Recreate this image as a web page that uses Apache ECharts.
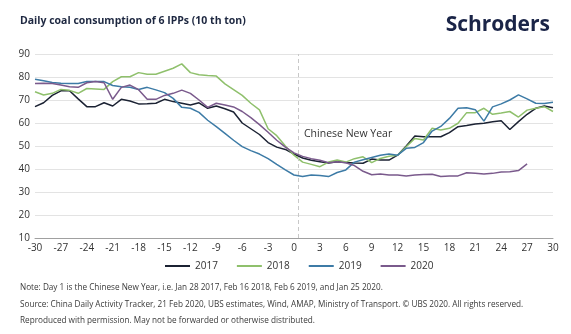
<!DOCTYPE html>
<html>
<head>
<meta charset="utf-8">
<script src="https://cdn.jsdelivr.net/npm/echarts@6/dist/echarts.min.js"></script>
<style>
  html, body { margin: 0; padding: 0; background: #ffffff; }
  #chart { width: 571px; height: 334px; }
</style>
</head>
<body>
<div id="chart"></div>
<script>
// Days relative to the Chinese New Year
const days = [-30,-29,-28,-27,-26,-25,-24,-23,-22,-21,-20,-19,-18,-17,-16,-15,-14,-13,-12,-11,
  -10,-9,-8,-7,-6,-5,-4,-3,-2,-1,0,1,2,3,4,5,6,7,8,9,10,11,12,13,14,15,16,17,18,19,20,
  21,22,23,24,25,26,27,28,29,30];

// Daily coal consumption of 6 IPPs (10 th ton)
const y2017 = [67.1,68.8,72.0,74.0,74.0,70.5,67.1,67.1,68.8,67.4,70.3,69.6,68.3,68.4,68.6,70.3,69.3,68.6,67.8,68.8,
  66.4,67.4,66.2,64.8,60.0,57.5,55.0,51.5,49.5,48.5,46.5,44.8,43.8,43.2,42.6,43.2,42.8,42.6,42.5,44.3,43.9,
  43.9,46.0,50.0,54.3,54.0,54.0,54.0,55.8,58.4,58.9,59.6,59.9,60.5,61.0,57.2,60.6,63.8,66.4,67.4,66.6];
const y2018 = [73.6,72.2,72.9,74.6,74.2,72.9,75.0,74.8,74.6,78.0,80.1,80.1,81.9,81.2,81.2,82.5,83.8,85.7,81.9,81.0,
  80.6,80.4,77.0,74.5,72.0,68.6,65.7,57.5,54.5,50.0,46.0,43.0,42.0,41.0,43.0,43.9,43.0,44.5,45.3,42.8,44.6,
  45.5,46.0,49.7,53.3,52.6,57.7,57.0,57.7,59.9,64.5,64.5,66.4,63.8,64.3,65.0,62.6,65.6,66.4,67.1,65.0];
const y2019 = [79.0,78.4,77.6,77.3,77.2,77.2,78.0,78.0,78.0,76.3,75.8,75.5,74.6,75.5,74.4,73.2,70.7,66.8,66.4,64.6,
  61.2,58.4,55.5,52.5,49.7,48.0,46.5,44.5,42.0,39.6,37.4,36.7,37.4,37.2,36.7,38.5,39.6,43.0,44.0,45.0,46.0,
  46.5,46.0,49.0,49.4,51.5,56.5,58.5,62.0,66.4,66.6,65.8,60.8,67.0,68.3,70.0,72.2,70.5,68.6,68.5,69.0];
const y2020 = [77.2,77.3,77.2,76.5,75.8,75.5,77.5,78.0,77.5,70.3,75.5,76.5,74.5,70.3,70.3,72.0,72.9,74.3,72.9,70.0,
  66.8,68.6,67.8,67.0,65.0,62.3,59.3,56.0,52.5,49.5,47.0,45.5,44.5,43.8,42.7,43.2,42.7,41.5,39.0,37.5,37.8,
  37.4,37.4,37.0,37.4,37.6,37.7,36.7,37.0,37.0,38.4,38.1,37.8,38.1,38.7,38.8,39.3,42.2,null,null,null];

const seriesNames = ['2017', '2018', '2019', '2020'];
const seriesValues = [y2017, y2018, y2019, y2020];
const seriesColors = ['#1b2233', '#8fc06c', '#3d7ba6', '#7a5a8c'];

// Axis settings
const yMin = 10, yMax = 90, yStep = 10;
const xMin = -30, xMax = 30, xStep = 3;
const newYearDay = 0.5;

const textFont = '"Open Sans", "Noto Sans", sans-serif';

const chart = echarts.init(document.getElementById('chart'), null, { renderer: 'canvas' });

const series = seriesNames.map((name, i) => ({
  name: name,
  type: 'line',
  data: days.map((d, k) => [d, seriesValues[i][k]]),
  showSymbol: false,
  symbol: 'none',
  lineStyle: { width: 1.5, color: seriesColors[i] },
  itemStyle: { color: seriesColors[i] },
  connectNulls: false,
  animation: false,
  z: 3 + i
}));

// Dashed marker for the New Year
series[0].markLine = {
  silent: true,
  symbol: 'none',
  animation: false,
  label: { show: false },
  lineStyle: { type: [4, 3], color: '#c8c8c8', width: 1 },
  data: [{ xAxis: newYearDay }]
};

chart.setOption({
  backgroundColor: '#ffffff',
  textStyle: { fontFamily: textFont },
  animation: false,
  grid: { left: 35, right: 18, top: 54, bottom: 96, containLabel: false },
  xAxis: {
    type: 'value',
    min: xMin, max: xMax, interval: xStep,
    axisLine: { show: true, lineStyle: { color: '#a0a0a0', width: 1 } },
    axisTick: { show: false },
    splitLine: { show: false },
    axisLabel: { color: '#333333', fontSize: 10, margin: 5, fontFamily: textFont }
  },
  yAxis: {
    type: 'value',
    min: yMin, max: yMax, interval: yStep,
    axisLine: { show: false },
    axisTick: { show: false },
    splitLine: { show: true, lineStyle: { color: '#e3e3e3', width: 1 } },
    axisLabel: { color: '#333333', fontSize: 10, margin: 5, fontFamily: textFont }
  },
  legend: {
    data: seriesNames,
    left: 160, top: 256,
    itemWidth: 25, itemHeight: 2, itemGap: 19,
    icon: 'rect',
    textStyle: { color: '#333333', fontSize: 10, fontFamily: textFont }
  },
  graphic: [
    {
      type: 'text', left: 20, top: 16,
      style: { text: 'Daily coal consumption of 6 IPPs (10 th ton)', fill: '#1d2740',
        font: 'bold 10.5px ' + textFont }
    },
    {
      type: 'text', right: 21, top: 15,
      style: { text: 'Schroders', fill: '#1a2447', font: 'bold 21px ' + textFont }
    },
    {
      type: 'text', left: 304, top: 129,
      style: { text: 'Chinese New Year', fill: '#333333', font: '10.5px ' + textFont }
    },
    {
      type: 'text', left: 20, top: 284,
      style: { text: 'Note: Day 1 is the Chinese New Year, i.e. Jan 28 2017, Feb 16 2018, Feb 6 2019, and Jan 25 2020.',
        fill: '#3a3a3a', font: '8.2px ' + textFont }
    },
    {
      type: 'text', left: 20, top: 301,
      style: { text: 'Source: China Daily Activity Tracker, 21 Feb 2020, UBS estimates, Wind, AMAP, Ministry of Transport. \u00A9 UBS 2020. All rights reserved.',
        fill: '#3a3a3a', font: '8.2px ' + textFont }
    },
    {
      type: 'text', left: 20, top: 317,
      style: { text: 'Reproduced with permission. May not be forwarded or otherwise distributed.',
        fill: '#3a3a3a', font: '8.2px ' + textFont }
    }
  ],
  series: series
});
</script>
</body>
</html>
